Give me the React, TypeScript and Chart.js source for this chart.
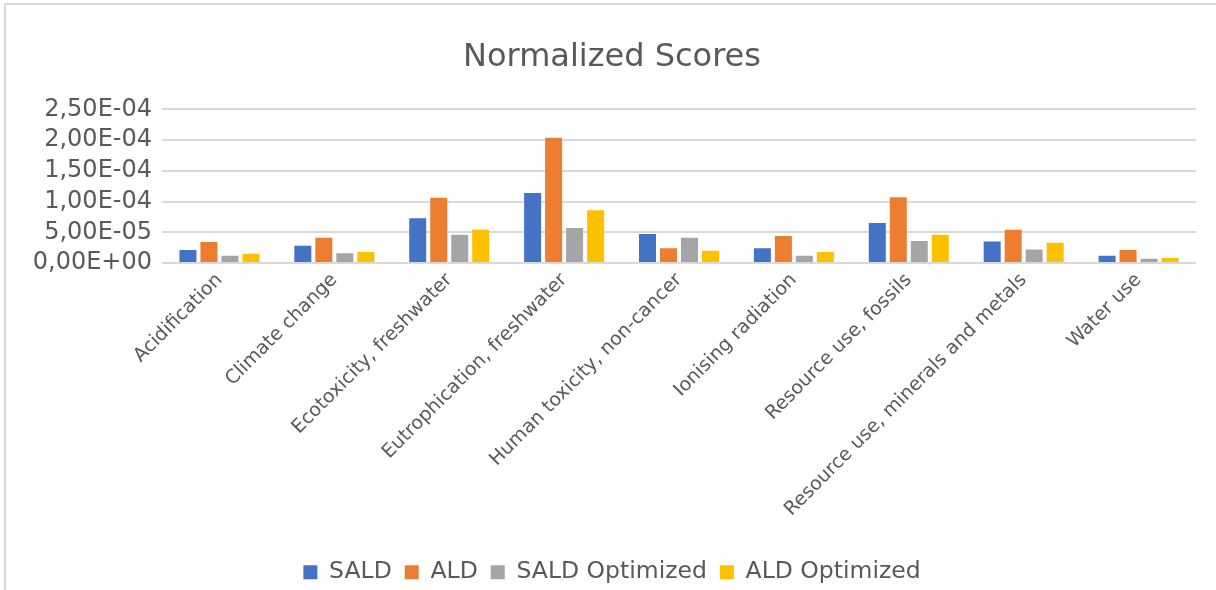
import React, { useEffect, useRef } from "react";
import { Chart, registerables } from "chart.js";

Chart.register(...registerables);

const categories = [
  "Acidification",
  "Climate change",
  "Ecotoxicity, freshwater",
  "Eutrophication, freshwater",
  "Human toxicity, non-cancer",
  "Ionising radiation",
  "Resource use, fossils",
  "Resource use, minerals and metals",
  "Water use",
];

const sald = [2.1e-5, 2.8e-5, 7.3e-5, 1.14e-4, 4.7e-5, 2.4e-5, 6.5e-5, 3.5e-5, 1.2e-5];
const ald = [3.4e-5, 4.1e-5, 1.06e-4, 2.04e-4, 2.4e-5, 4.4e-5, 1.07e-4, 5.4e-5, 2.1e-5];
const saldOptimized = [1.2e-5, 1.6e-5, 4.6e-5, 5.7e-5, 4.1e-5, 1.2e-5, 3.6e-5, 2.2e-5, 7e-6];
const aldOptimized = [1.5e-5, 1.8e-5, 5.4e-5, 8.6e-5, 2.0e-5, 1.8e-5, 4.6e-5, 3.3e-5, 8e-6];

const seriesNames = ["SALD", "ALD", "SALD Optimized", "ALD Optimized"];
const seriesColors = ["#4472C4", "#ED7D31", "#A5A5A5", "#FFC000"];

const yMin = 0;
const yMax = 2.5e-4;
const yStep = 5e-5;

function formatSci(v: number): string {
  const s = v.toExponential(2);
  const [mant, exp] = s.split("e");
  const n = parseInt(exp, 10);
  const sign = n < 0 ? "-" : "+";
  const abs = Math.abs(n).toString().padStart(2, "0");
  return mant.replace(".", ",") + "E" + sign + abs;
}

const TEXT = "#595959";
const FONT = "'DejaVu Sans', sans-serif";

export default function App() {
  const ref = useRef<HTMLCanvasElement | null>(null);

  useEffect(() => {
    if (!ref.current) return;
    const data = [sald, ald, saldOptimized, aldOptimized];
    const chart = new Chart(ref.current, {
      type: "bar",
      data: {
        labels: categories,
        datasets: seriesNames.map((name, i) => ({
          label: name,
          data: data[i],
          backgroundColor: seriesColors[i],
          borderWidth: 0,
          categoryPercentage: 0.731,
          barPercentage: 0.81,
        })),
      },
      options: {
        responsive: false,
        animation: false,
        layout: { padding: { left: 28, right: 20, top: 0, bottom: 0 } },
        plugins: {
          title: {
            display: true,
            text: "Normalized Scores",
            color: TEXT,
            font: { family: FONT, size: 32, weight: "normal" },
            padding: { top: 38, bottom: 33 },
          },
          legend: {
            display: true,
            position: "bottom",
            labels: {
              color: TEXT,
              font: { family: FONT, size: 23.5 },
              boxWidth: 14,
              boxHeight: 14,
              padding: 13,
            },
          },
          tooltip: { enabled: false },
        },
        scales: {
          x: {
            grid: { display: false, drawTicks: false },
            border: { display: false },
            ticks: {
              color: TEXT,
              font: { family: FONT, size: 19 },
              maxRotation: 45,
              minRotation: 45,
              autoSkip: false,
              padding: 6,
            },
            afterFit: (scale: any) => {
              scale.height = 284.5;
            },
          },
          y: {
            min: yMin,
            max: yMax,
            grid: { color: "#d9d9d9", lineWidth: 2, drawTicks: false },
            border: { display: false },
            ticks: {
              stepSize: yStep,
              autoSkip: false,
              color: TEXT,
              font: { family: FONT, size: 24, lineHeight: 1 },
              padding: 10,
              callback: (v: any) => formatSci(Number(v)),
            },
            afterFit: (scale: any) => {
              scale.width = 134;
            },
          },
        },
      },
    });
    return () => chart.destroy();
  }, []);

  return (
    <div
      style={{
        position: "fixed",
        left: 0,
        top: 0,
        width: 1216,
        height: 590,
        overflow: "hidden",
        background: "#fff",
      }}
    >
      <div
        style={{
          position: "absolute",
          left: 4,
          top: 3,
          width: 1230,
          height: 600,
          borderLeft: "2px solid #d9d9d9",
          borderTop: "2px solid #d9d9d9",
        }}
      />
      <canvas ref={ref} width={1216} height={594} style={{ position: "absolute", left: 0, top: 0 }} />
    </div>
  );
}
